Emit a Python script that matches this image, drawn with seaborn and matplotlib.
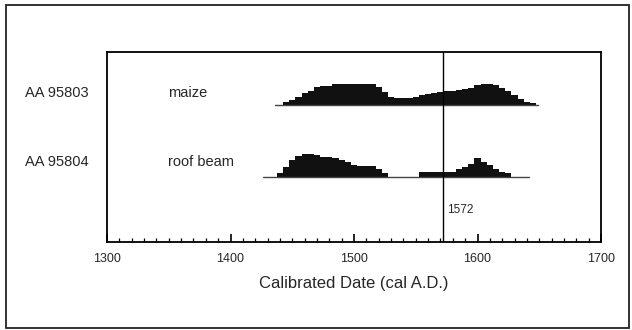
import numpy as np
import pandas as pd
import matplotlib
matplotlib.use("Agg")
import matplotlib.pyplot as plt
import seaborn as sns

# ---- data ----
years = list(range(1425, 1655, 5))
maize = [0, 0, 0, 0, 3, 5, 8, 12, 14, 18, 18.5, 19, 20.5, 20.7, 20.7, 20.7, 20.7, 20.7, 20.5,
         18, 13, 8, 6.5, 6.5, 7, 8, 10, 11, 12, 13, 14, 14, 15, 16, 17, 20, 20.5, 20.5, 20,
         17, 14, 10, 6, 3, 1.5, 0]
roof = [0, 0, 0, 4, 10, 17, 21, 23, 23.3, 22, 20.5, 20, 19, 17, 15, 12, 11.7, 11.7, 11,
        8.5, 4, 0, 0, 0, 0, 0, 5.7, 5.7, 5.7, 5.7, 5.7, 5.7, 8, 10, 13, 19, 15, 12, 8, 5,
        4, 0, 0, 0, 0, 0]
samples = ["AA 95803", "AA 95804"]
materials = ["maize", "roof beam"]
ranges = [(1436, 1649), (1426, 1642)]
event_year = 1572
x_ticks = [1300, 1400, 1500, 1600, 1700]
xlabel = "Calibrated Date (cal A.D.)"

sns.set_theme(style="white")
plt.rcParams["font.family"] = ["Liberation Sans", "DejaVu Sans"]

fig = plt.figure(figsize=(6.32, 3.30), dpi=100)
ax = fig.add_axes([107/632, 88/330, 494/632, 190/330])

df = pd.DataFrame({"year": years * 2,
                   "p": maize + roof,
                   "sample": [samples[0]] * len(years) + [samples[1]] * len(years)})
bases = {samples[0]: 137, samples[1]: 64.7}
df["y"] = df["p"] + df["sample"].map(bases)

for s, (lo, hi) in zip(samples, ranges):
    sub = df[df["sample"] == s]
    b = bases[s]
    ax.fill_between(sub["year"], b, sub["y"], step="mid", color="#111111", lw=0)
    ax.plot([lo, hi], [b, b], color="#444444", lw=1.0)

ax.axvline(event_year, color="black", lw=1.0)

ax.set_xlim(1300, 1700)
ax.set_ylim(0, 190)
ax.set_yticks([])
ax.set_xticks(x_ticks)
ax.set_xticks(np.arange(1300, 1701, 10), minor=True)
ax.tick_params(axis="x", which="major", direction="in", length=6, width=1.2,
               color="black", labelsize=9, pad=8, bottom=True)
ax.tick_params(axis="x", which="minor", direction="in", length=3, width=0.9,
               color="black", bottom=True)
for sp in ax.spines.values():
    sp.set_color("black")
    sp.set_linewidth(1.3)
ax.set_xlabel(xlabel, fontsize=12, labelpad=8)

# labels
fig.text(25/632, 1 - 93/330, samples[0], fontsize=10.5, va="center", ha="left")
fig.text(25/632, 1 - 162/330, samples[1], fontsize=10.5, va="center", ha="left")
fig.text(168/632, 1 - 93/330, materials[0], fontsize=10.5, va="center", ha="left")
fig.text(168/632, 1 - 162/330, materials[1], fontsize=10.5, va="center", ha="left")
ax.text(event_year + 3, 32, str(event_year), fontsize=8.5, va="center", ha="left")

# outer frame
frame = plt.Rectangle((6/632, 2/330), 623/632, 323/330, transform=fig.transFigure,
                      fill=False, edgecolor="#222222", lw=1.3)
fig.patches.append(frame)

fig.savefig("out.png", dpi=100)
